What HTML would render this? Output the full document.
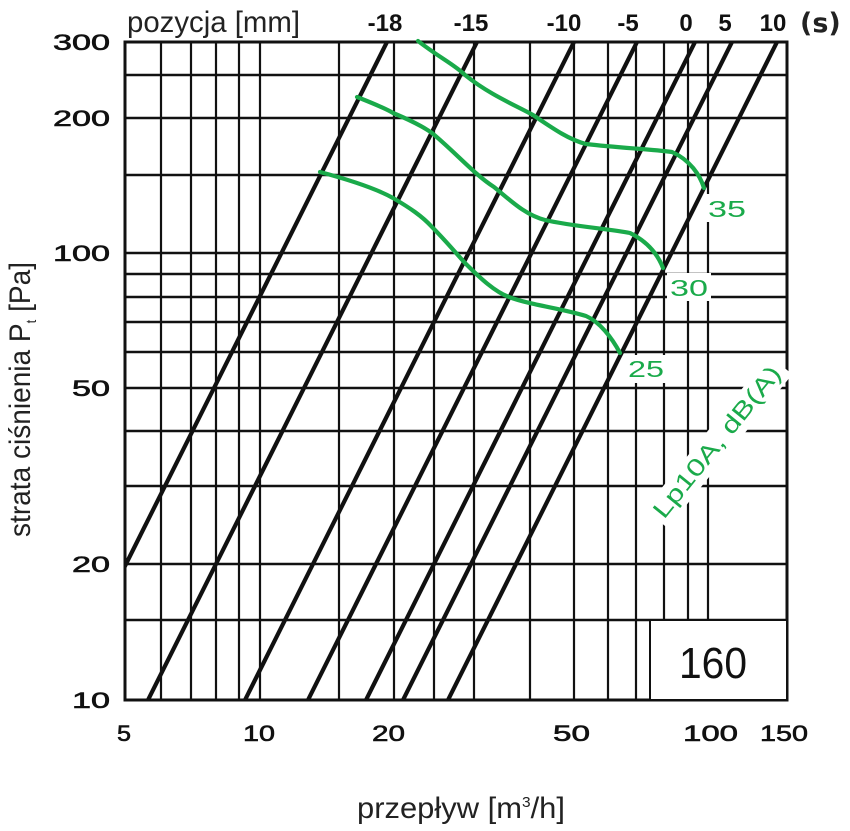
<!DOCTYPE html>
<html><head><meta charset="utf-8"><style>
html,body{margin:0;padding:0;background:#fff;}
svg{display:block;}
</style></head><body>
<svg width="850" height="831" viewBox="0 0 850 831" xmlns="http://www.w3.org/2000/svg">
<rect width="850" height="831" fill="#fff"/>
<defs><clipPath id="c"><rect x="125" y="42" width="662" height="658"/></clipPath></defs>
<g stroke="#111" stroke-width="2.2" fill="none">
<line x1="161" y1="42" x2="161" y2="700"/><line x1="191" y1="42" x2="191" y2="700"/>
<line x1="216" y1="42" x2="216" y2="700"/><line x1="239" y1="42" x2="239" y2="700"/>
<line x1="260" y1="42" x2="260" y2="700"/><line x1="339" y1="42" x2="339" y2="700"/>
<line x1="394" y1="42" x2="394" y2="700"/><line x1="434" y1="42" x2="434" y2="700"/>
<line x1="474" y1="42" x2="474" y2="700"/><line x1="530" y1="42" x2="530" y2="700"/>
<line x1="574" y1="42" x2="574" y2="700"/><line x1="608" y1="42" x2="608" y2="700"/>
<line x1="636" y1="42" x2="636" y2="700"/><line x1="664" y1="42" x2="664" y2="700"/>
<line x1="688" y1="42" x2="688" y2="700"/><line x1="708" y1="42" x2="708" y2="700"/>
<g stroke-width="2.6">
<line x1="125" y1="75" x2="787" y2="75"/><line x1="125" y1="118" x2="787" y2="118"/>
<line x1="125" y1="175" x2="787" y2="175"/><line x1="125" y1="253" x2="787" y2="253"/>
<line x1="125" y1="274" x2="787" y2="274"/><line x1="125" y1="297" x2="787" y2="297"/>
<line x1="125" y1="322" x2="787" y2="322"/><line x1="125" y1="352" x2="787" y2="352"/>
<line x1="125" y1="388" x2="787" y2="388"/><line x1="125" y1="431" x2="787" y2="431"/>
<line x1="125" y1="486" x2="787" y2="486"/><line x1="125" y1="564" x2="787" y2="564"/>
<line x1="125" y1="620" x2="787" y2="620"/>
</g>
<rect x="125" y="42" width="662" height="658" stroke-width="3"/>
</g>
<g stroke="#111" stroke-width="4.2" clip-path="url(#c)">
<line x1="388" y1="40" x2="56" y2="704"/>
<line x1="478" y1="40" x2="146" y2="704"/>
<line x1="575" y1="40" x2="243" y2="704"/>
<line x1="638" y1="40" x2="306" y2="704"/>
<line x1="696" y1="40" x2="364" y2="704"/>
<line x1="733" y1="40" x2="401" y2="704"/>
<line x1="778" y1="40" x2="446" y2="704"/>
</g>
<rect x="650" y="620" width="137" height="80" fill="#fff" stroke="#111" stroke-width="2"/>
<text x="713" y="678" font-family="Liberation Sans, sans-serif" font-size="44" text-anchor="middle" fill="#111" textLength="68" lengthAdjust="spacingAndGlyphs">160</text>
<g stroke="#1aaa4a" stroke-width="4.2" fill="none" stroke-linejoin="round" stroke-linecap="round">
<path d="M418,41 C440,58 455,65 465,75 C490,95 515,105 533,115 C555,130 570,140 586,144 C620,148 650,149 672,152 C690,160 700,175 704,188"/>
<path d="M357,97 C372,103 385,108 393,113 C410,120 422,126 432,133 C455,152 475,175 494,187 C510,200 525,215 545,220 C570,226 610,229 630,233 C648,242 658,255 663,268"/>
<path d="M320,172 C350,180 375,188 393,198 C410,208 422,216 432,227 C445,240 455,252 465,263 C480,278 495,292 509,297 C530,305 560,308 586,316 C600,322 612,338 620,353"/>
</g>
<g font-family="Liberation Sans, sans-serif" font-size="23" fill="#1aaa4a">
<rect x="705" y="194" width="42" height="28" fill="#fff"/>
<text x="708" y="217" textLength="38" lengthAdjust="spacingAndGlyphs">35</text>
<rect x="667" y="273" width="44" height="28" fill="#fff"/>
<text x="670" y="296" textLength="38" lengthAdjust="spacingAndGlyphs">30</text>
<rect x="625" y="355" width="42" height="28" fill="#fff"/>
<text x="628" y="377" textLength="36" lengthAdjust="spacingAndGlyphs">25</text>
<g transform="translate(664,520) rotate(-51)">
<rect x="-4" y="-22" width="198" height="30" fill="#fff"/>
<text x="0" y="0" font-size="24" textLength="188" lengthAdjust="spacingAndGlyphs">Lp10A, dB(A)</text>
</g>
</g>
<text x="127" y="32" font-family="Liberation Sans, sans-serif" font-size="30" fill="#222" textLength="173" lengthAdjust="spacingAndGlyphs">pozycja [mm]</text>
<g font-family="Liberation Sans, sans-serif" font-size="24" font-weight="bold" fill="#111" text-anchor="middle">
<text x="385" y="31">-18</text>
<text x="471" y="31">-15</text>
<text x="564" y="31">-10</text>
<text x="628" y="31">-5</text>
<text x="686" y="31">0</text>
<text x="725" y="31">5</text>
<text x="773" y="31">10</text>
</g>
<text x="800" y="32" font-family="DejaVu Sans, sans-serif" font-size="27" font-weight="bold" fill="#222">(s)</text>
<g font-family="Liberation Sans, sans-serif" font-size="22" fill="#111" stroke="#111" stroke-width="0.6">
<text x="53" y="50" textLength="57" lengthAdjust="spacingAndGlyphs">300</text>
<text x="53" y="126" textLength="57" lengthAdjust="spacingAndGlyphs">200</text>
<text x="53" y="261" textLength="57" lengthAdjust="spacingAndGlyphs">100</text>
<text x="72" y="396" textLength="38" lengthAdjust="spacingAndGlyphs">50</text>
<text x="72" y="572" textLength="38" lengthAdjust="spacingAndGlyphs">20</text>
<text x="72" y="708" textLength="38" lengthAdjust="spacingAndGlyphs">10</text>
<text x="117" y="741" textLength="14" lengthAdjust="spacingAndGlyphs">5</text>
<text x="243" y="741" textLength="32" lengthAdjust="spacingAndGlyphs">10</text>
<text x="372" y="741" textLength="33" lengthAdjust="spacingAndGlyphs">20</text>
<text x="553" y="741" textLength="37" lengthAdjust="spacingAndGlyphs">50</text>
<text x="683" y="741" textLength="55" lengthAdjust="spacingAndGlyphs">100</text>
<text x="760" y="741" textLength="48" lengthAdjust="spacingAndGlyphs">150</text>
</g>
<text x="357" y="818" font-family="Liberation Sans, sans-serif" font-size="30" fill="#222" textLength="208" lengthAdjust="spacingAndGlyphs">przepływ [m<tspan dy="-11" font-size="15">3</tspan><tspan dy="11">/h]</tspan></text>
<text transform="translate(30,537) rotate(-90)" font-family="Liberation Sans, sans-serif" font-size="30" fill="#222" textLength="275" lengthAdjust="spacingAndGlyphs">strata ciśnienia P<tspan dy="6" font-size="14">t</tspan><tspan dy="-6"> [Pa]</tspan></text>
</svg>
</body></html>
